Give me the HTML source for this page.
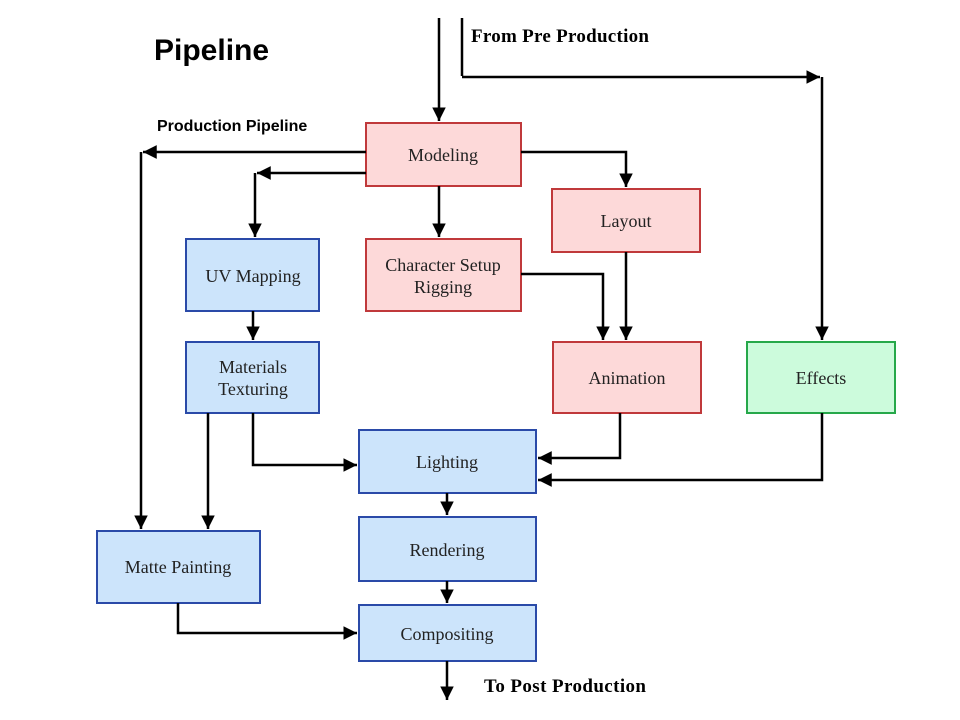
<!DOCTYPE html>
<html><head><meta charset="utf-8"><style>body{margin:0;background:#fff}svg{display:block}</style></head><body>
<svg width="960" height="720" viewBox="0 0 960 720" xmlns="http://www.w3.org/2000/svg">
<defs><marker id="a" viewBox="0 0 10 10" refX="10" refY="5" markerWidth="5.5" markerHeight="5.5" orient="auto"><path d="M0,0L10,5L0,10z" fill="#000"/></marker></defs>
<rect width="960" height="720" fill="#fff"/>
<g font-family="Liberation Serif, serif" font-size="18" text-anchor="middle" fill="#222">
<g fill="#fdd9d9" stroke="#c0393b" stroke-width="2">
<rect x="366" y="123" width="155" height="63"/>
<rect x="552" y="189" width="148" height="63"/>
<rect x="366" y="239" width="155" height="72"/>
<rect x="553" y="342" width="148" height="71"/>
</g>
<g fill="#cce4fb" stroke="#2a4aa8" stroke-width="2">
<rect x="186" y="239" width="133" height="72"/>
<rect x="186" y="342" width="133" height="71"/>
<rect x="359" y="430" width="177" height="63"/>
<rect x="359" y="517" width="177" height="64"/>
<rect x="97" y="531" width="163" height="72"/>
<rect x="359" y="605" width="177" height="56"/>
</g>
<rect x="747" y="342" width="148" height="71" fill="#ccfbdc" stroke="#26a84a" stroke-width="2"/>
<text x="443" y="161">Modeling</text>
<text x="626" y="227">Layout</text>
<text x="443" y="271">Character Setup</text>
<text x="443" y="293">Rigging</text>
<text x="253" y="282">UV Mapping</text>
<text x="253" y="373">Materials</text>
<text x="253" y="395">Texturing</text>
<text x="627" y="384">Animation</text>
<text x="821" y="384">Effects</text>
<text x="447" y="468">Lighting</text>
<text x="447" y="556">Rendering</text>
<text x="178" y="573">Matte Painting</text>
<text x="447" y="640">Compositing</text>
</g>
<g stroke="#000" stroke-width="2.5" fill="none">
<path d="M439,18V121" marker-end="url(#a)"/>
<path d="M462,18V76"/>
<path d="M462,77H820" marker-end="url(#a)"/>
<path d="M822,77V340" marker-end="url(#a)"/>
<path d="M366,152H143" marker-end="url(#a)"/>
<path d="M141,152V529" marker-end="url(#a)"/>
<path d="M366,173H257" marker-end="url(#a)"/>
<path d="M255,173V237" marker-end="url(#a)"/>
<path d="M521,152H626V187" marker-end="url(#a)"/>
<path d="M439,186V237" marker-end="url(#a)"/>
<path d="M521,274H603V340" marker-end="url(#a)"/>
<path d="M626,252V340" marker-end="url(#a)"/>
<path d="M253,311V340" marker-end="url(#a)"/>
<path d="M208,413V529" marker-end="url(#a)"/>
<path d="M253,413V465H357" marker-end="url(#a)"/>
<path d="M620,413V458H538" marker-end="url(#a)"/>
<path d="M822,413V480H538" marker-end="url(#a)"/>
<path d="M447,493V515" marker-end="url(#a)"/>
<path d="M447,581V603" marker-end="url(#a)"/>
<path d="M178,603V633H357" marker-end="url(#a)"/>
<path d="M447,661V700" marker-end="url(#a)"/>
</g>
<text x="154" y="60" font-family="Liberation Sans, sans-serif" font-weight="bold" font-size="30">Pipeline</text>
<text x="157" y="131" font-family="Liberation Sans, sans-serif" font-weight="bold" font-size="16">Production Pipeline</text>
<text x="471" y="42" font-family="Liberation Serif, serif" font-weight="bold" font-size="19" textLength="178">From Pre Production</text>
<text x="484" y="692" font-family="Liberation Serif, serif" font-weight="bold" font-size="19" textLength="162">To Post Production</text>
</svg>
</body></html>
